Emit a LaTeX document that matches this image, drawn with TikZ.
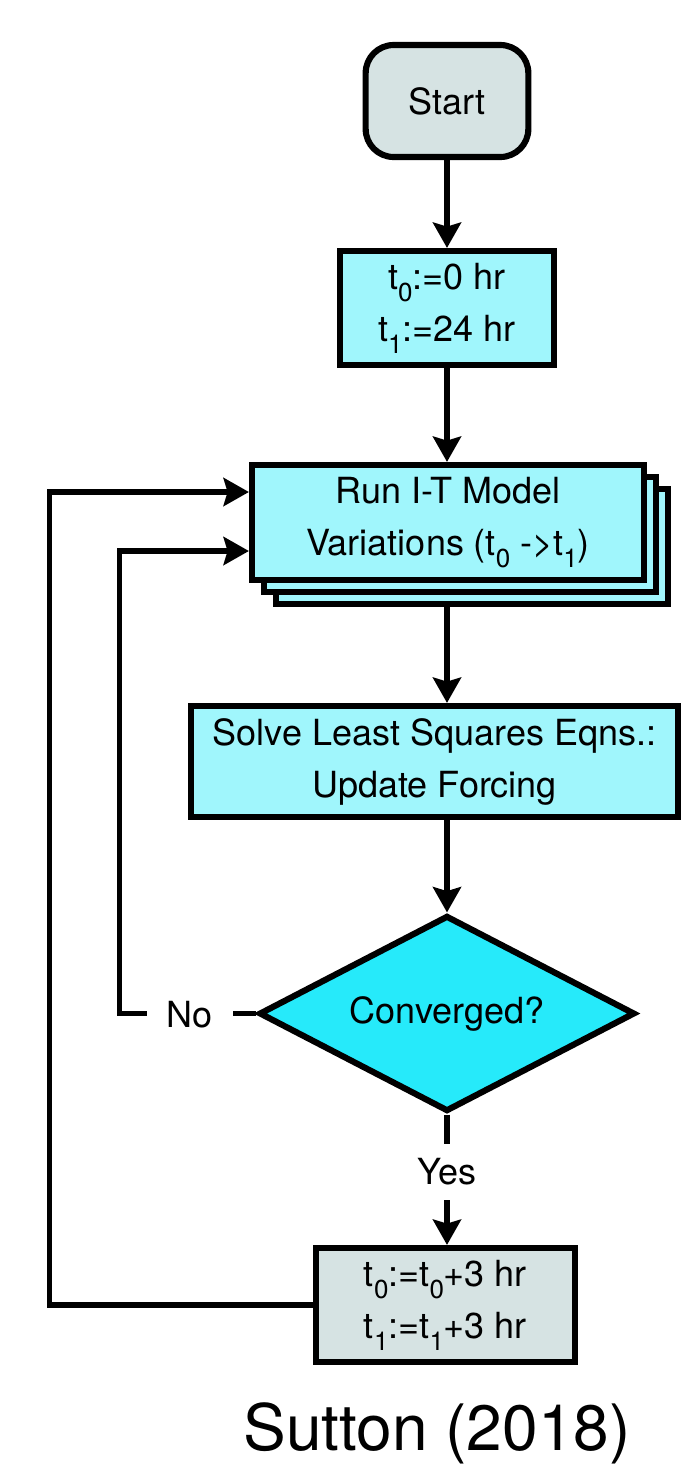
\documentclass[tikz,border=0pt]{standalone}
\usepackage{fontspec}
\setmainfont{TeX Gyre Heros}
\usetikzlibrary{arrows.meta,shapes.geometric}
\definecolor{boxcyan}{HTML}{A0F6FC}
\definecolor{diacyan}{HTML}{26EAFA}
\definecolor{boxgray}{HTML}{D6E3E3}
% lowered, smaller index digit as in t_0
\newcommand\tsub[1]{\raisebox{-0.34em}{\fontsize{19.5}{19.5}\selectfont #1}}
\begin{document}
\begin{tikzpicture}[x=0.75pt,y=-0.75pt,
  box/.style={draw, rectangle, line width=4.6pt, align=center, inner sep=0pt,
    font=\fontsize{27}{39}\selectfont},
  flow/.style={line width=4.3pt, -{Stealth[length=19pt,width=21pt,inset=3pt]}},
  plain/.style={line width=4.3pt},
  lbl/.style={font=\fontsize{27}{32}\selectfont, inner sep=0pt}]
\useasboundingbox (0,0) rectangle (681,1465);

% terminal and process boxes
\node[box, fill=boxgray, rounded corners=21pt, minimum width=122pt, minimum height=84pt]
  (start) at (447,101) {Start};
\node[box, fill=boxcyan, minimum width=160.5pt, minimum height=85.5pt]
  (init) at (447,308) {t\tsub{0}:=0 hr\\t\tsub{1}:=24 hr};

% stacked model runs
\node[box, fill=boxcyan, minimum width=294pt, minimum height=86.25pt] (stack3) at (472,546.5) {};
\node[box, fill=boxcyan, minimum width=294pt, minimum height=86.25pt] (stack2) at (460,534.5) {};
\node[box, fill=boxcyan, minimum width=294pt, minimum height=86.25pt]
  (stack1) at (448,522.5) {Run I-T Model\\Variations (t\tsub{0} ->t\tsub{1})};

\node[box, fill=boxcyan, minimum width=365.25pt, minimum height=83.25pt]
  (solve) at (434.5,761.5) {Solve Least Squares Eqns.:\\Update Forcing};

% decision
\node[draw, diamond, fill=diacyan, line width=4.6pt, inner sep=0pt, aspect=2,
  minimum width=282pt, minimum height=147pt, font=\fontsize{27}{32}\selectfont]
  (conv) at (447,1013.5) {Converged?};

\node[box, fill=boxgray, minimum width=194.25pt, minimum height=85.5pt]
  (step) at (445.5,1305) {t\tsub{0}:=t\tsub{0}+3 hr\\t\tsub{1}:=t\tsub{1}+3 hr};

% branch labels
\node[lbl, inner xsep=15pt] (no) at (190,1014.5) {No};
\node[lbl, inner ysep=11pt] (yes) at (447,1172) {Yes};

\node[font=\fontsize{48}{56}\selectfont, inner sep=0pt] (ref) at (437,1433) {Sutton (2018)};

% loop corners
\coordinate (inner) at (119.5,551);
\coordinate (outer) at (49.5,492);

% connectors
\draw[flow] (start) -- (init);
\draw[flow] (init) -- (init |- stack1.north);
\draw[flow] (start |- stack3.south) -- (start |- solve.north);
\draw[flow] (start |- solve.south) -- (conv.north);
\draw[plain] (conv.south) -- (yes);
\draw[flow] (yes) -- (yes |- step.north);
\draw[plain] (conv.west) -- (no.east |- conv.west);
\draw[flow] (no.west |- conv.west) -| (inner) -- (stack1.west |- inner);
\draw[flow] (step.west) -| (outer) -- (stack1.west |- outer);
\end{tikzpicture}
\end{document}
